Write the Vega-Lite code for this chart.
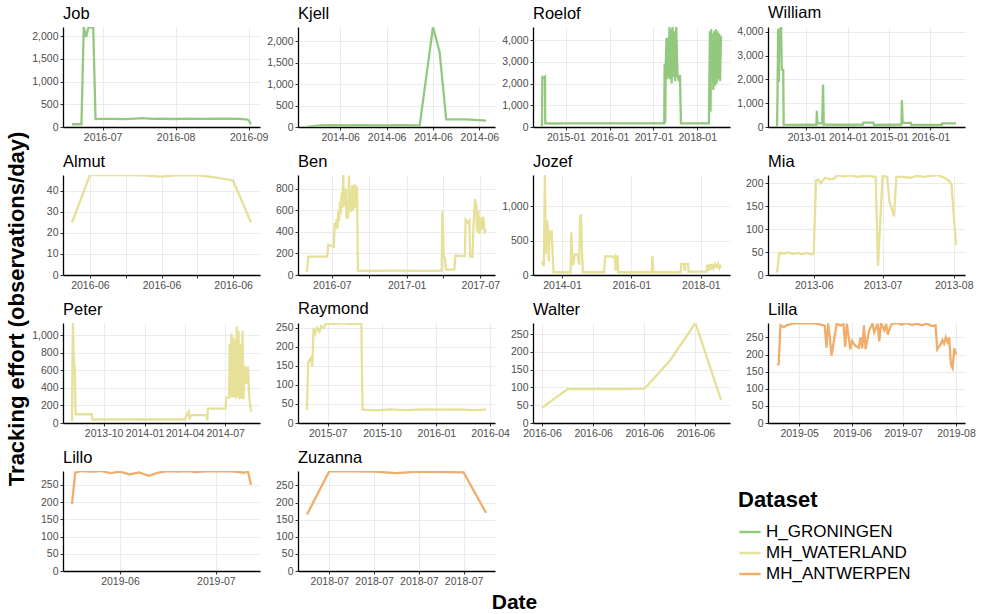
{
  "$schema": "https://vega.github.io/schema/vega-lite/v6.json",
  "padding": 5,
  "background": "white",
  "title": {"text": "Tracking effort (observations/day)", "orient": "left", "anchor": "middle", "fontSize": 22, "fontWeight": "bold", "font": "Liberation Sans", "color": "black", "offset": 3},
  "vconcat": [
    {
      "title": {"text": "Date", "orient": "bottom", "anchor": "middle", "fontSize": 21, "fontWeight": "bold", "font": "Liberation Sans", "color": "black", "offset": 5, "dx": 11},
      "data": {"values": [
        {"n":"Job","d":"2016-06-18","v":60},{"n":"Job","d":"2016-06-20","v":62},{"n":"Job","d":"2016-06-22","v":60},{"n":"Job","d":"2016-06-23","v":2200},{"n":"Job","d":"2016-06-24","v":1980},{"n":"Job","d":"2016-06-25","v":2200},{"n":"Job","d":"2016-06-26","v":2190},{"n":"Job","d":"2016-06-27","v":2200},{"n":"Job","d":"2016-06-28","v":175},{"n":"Job","d":"2016-07-01","v":180},{"n":"Job","d":"2016-07-05","v":178},{"n":"Job","d":"2016-07-10","v":172},{"n":"Job","d":"2016-07-15","v":185},{"n":"Job","d":"2016-07-18","v":195},{"n":"Job","d":"2016-07-22","v":180},{"n":"Job","d":"2016-07-26","v":182},{"n":"Job","d":"2016-08-01","v":176},{"n":"Job","d":"2016-08-06","v":183},{"n":"Job","d":"2016-08-12","v":180},{"n":"Job","d":"2016-08-18","v":185},{"n":"Job","d":"2016-08-24","v":182},{"n":"Job","d":"2016-08-28","v":178},{"n":"Job","d":"2016-08-31","v":170},{"n":"Job","d":"2016-09-01","v":150},{"n":"Job","d":"2016-09-02","v":60},
        {"n":"Kjell","d":"2014-06-03","v":0},{"n":"Kjell","d":"2014-06-05","v":40},{"n":"Kjell","d":"2014-06-07","v":45},{"n":"Kjell","d":"2014-06-09","v":40},{"n":"Kjell","d":"2014-06-11","v":42},{"n":"Kjell","d":"2014-06-13","v":40},{"n":"Kjell","d":"2014-06-15","v":38},{"n":"Kjell","d":"2014-06-17","v":42},{"n":"Kjell","d":"2014-06-19","v":40},{"n":"Kjell","d":"2014-06-20","v":40},{"n":"Kjell","d":"2014-06-22","v":2330},{"n":"Kjell","d":"2014-06-23","v":1750},{"n":"Kjell","d":"2014-06-24","v":180},{"n":"Kjell","d":"2014-06-27","v":180},{"n":"Kjell","d":"2014-06-30","v":150},
        {"n":"Roelof","d":"2014-06-17","v":0},{"n":"Roelof","d":"2014-06-20","v":2300},{"n":"Roelof","d":"2014-07-05","v":2250},{"n":"Roelof","d":"2014-07-12","v":2300},{"n":"Roelof","d":"2014-07-14","v":170},{"n":"Roelof","d":"2014-10-01","v":160},{"n":"Roelof","d":"2015-01-01","v":170},{"n":"Roelof","d":"2015-04-01","v":165},{"n":"Roelof","d":"2015-07-01","v":170},{"n":"Roelof","d":"2016-01-01","v":165},{"n":"Roelof","d":"2016-07-01","v":170},{"n":"Roelof","d":"2017-01-01","v":170},{"n":"Roelof","d":"2017-04-01","v":170},{"n":"Roelof","d":"2017-04-04","v":2900},{"n":"Roelof","d":"2017-04-09","v":200},{"n":"Roelof","d":"2017-04-14","v":3000},{"n":"Roelof","d":"2017-04-20","v":4100},{"n":"Roelof","d":"2017-04-26","v":2200},{"n":"Roelof","d":"2017-05-02","v":4100},{"n":"Roelof","d":"2017-05-08","v":2300},{"n":"Roelof","d":"2017-05-14","v":4600},{"n":"Roelof","d":"2017-05-20","v":2200},{"n":"Roelof","d":"2017-05-27","v":4500},{"n":"Roelof","d":"2017-06-02","v":2000},{"n":"Roelof","d":"2017-06-09","v":4600},{"n":"Roelof","d":"2017-06-15","v":2300},{"n":"Roelof","d":"2017-06-22","v":4400},{"n":"Roelof","d":"2017-07-01","v":2100},{"n":"Roelof","d":"2017-07-10","v":4600},{"n":"Roelof","d":"2017-07-20","v":2400},{"n":"Roelof","d":"2017-08-01","v":2100},{"n":"Roelof","d":"2017-08-10","v":2400},{"n":"Roelof","d":"2017-08-18","v":170},{"n":"Roelof","d":"2017-12-01","v":165},{"n":"Roelof","d":"2018-04-08","v":170},{"n":"Roelof","d":"2018-04-12","v":2200},{"n":"Roelof","d":"2018-04-17","v":4400},{"n":"Roelof","d":"2018-04-22","v":700},{"n":"Roelof","d":"2018-04-27","v":4500},{"n":"Roelof","d":"2018-05-03","v":2500},{"n":"Roelof","d":"2018-05-09","v":4300},{"n":"Roelof","d":"2018-05-15","v":1700},{"n":"Roelof","d":"2018-05-22","v":4400},{"n":"Roelof","d":"2018-05-29","v":1900},{"n":"Roelof","d":"2018-06-05","v":4500},{"n":"Roelof","d":"2018-06-12","v":2000},{"n":"Roelof","d":"2018-06-19","v":4400},{"n":"Roelof","d":"2018-06-26","v":2200},{"n":"Roelof","d":"2018-07-03","v":4300},{"n":"Roelof","d":"2018-07-10","v":2100},{"n":"Roelof","d":"2018-07-18","v":4200},
        {"n":"William","d":"2012-04-16","v":0},{"n":"William","d":"2012-04-20","v":1100},{"n":"William","d":"2012-04-26","v":4100},{"n":"William","d":"2012-05-02","v":1900},{"n":"William","d":"2012-05-06","v":4150},{"n":"William","d":"2012-05-12","v":3200},{"n":"William","d":"2012-05-18","v":3800},{"n":"William","d":"2012-05-22","v":4200},{"n":"William","d":"2012-05-28","v":2400},{"n":"William","d":"2012-06-10","v":2400},{"n":"William","d":"2012-06-14","v":100},{"n":"William","d":"2012-09-01","v":90},{"n":"William","d":"2013-01-01","v":95},{"n":"William","d":"2013-03-30","v":90},{"n":"William","d":"2013-04-03","v":680},{"n":"William","d":"2013-04-08","v":150},{"n":"William","d":"2013-05-20","v":150},{"n":"William","d":"2013-05-28","v":1780},{"n":"William","d":"2013-06-03","v":100},{"n":"William","d":"2013-10-01","v":95},{"n":"William","d":"2014-01-01","v":95},{"n":"William","d":"2014-05-15","v":100},{"n":"William","d":"2014-05-20","v":180},{"n":"William","d":"2014-08-15","v":180},{"n":"William","d":"2014-08-20","v":90},{"n":"William","d":"2015-01-01","v":95},{"n":"William","d":"2015-04-20","v":100},{"n":"William","d":"2015-04-24","v":1130},{"n":"William","d":"2015-05-01","v":170},{"n":"William","d":"2015-07-12","v":170},{"n":"William","d":"2015-07-16","v":90},{"n":"William","d":"2016-01-01","v":90},{"n":"William","d":"2016-04-10","v":90},{"n":"William","d":"2016-04-14","v":150},{"n":"William","d":"2016-08-14","v":150},
        {"n":"Almut","d":"2016-06-03","v":25},{"n":"Almut","d":"2016-06-04","v":47.5},{"n":"Almut","d":"2016-06-05","v":47.5},{"n":"Almut","d":"2016-06-06","v":47.5},{"n":"Almut","d":"2016-06-07","v":47.4},{"n":"Almut","d":"2016-06-08","v":46.8},{"n":"Almut","d":"2016-06-09","v":47.6},{"n":"Almut","d":"2016-06-10","v":47.4},{"n":"Almut","d":"2016-06-11","v":46.5},{"n":"Almut","d":"2016-06-12","v":45},{"n":"Almut","d":"2016-06-13","v":25},
        {"n":"Ben","d":"2016-05-01","v":30},{"n":"Ben","d":"2016-05-04","v":170},{"n":"Ben","d":"2016-06-20","v":170},{"n":"Ben","d":"2016-06-22","v":280},{"n":"Ben","d":"2016-07-06","v":260},{"n":"Ben","d":"2016-07-08","v":480},{"n":"Ben","d":"2016-07-10","v":420},{"n":"Ben","d":"2016-07-13","v":520},{"n":"Ben","d":"2016-07-15","v":430},{"n":"Ben","d":"2016-07-17","v":600},{"n":"Ben","d":"2016-07-19","v":500},{"n":"Ben","d":"2016-07-21","v":680},{"n":"Ben","d":"2016-07-23","v":560},{"n":"Ben","d":"2016-07-25","v":760},{"n":"Ben","d":"2016-07-27","v":620},{"n":"Ben","d":"2016-07-29","v":925},{"n":"Ben","d":"2016-07-31","v":700},{"n":"Ben","d":"2016-08-02","v":640},{"n":"Ben","d":"2016-08-04","v":800},{"n":"Ben","d":"2016-08-06","v":520},{"n":"Ben","d":"2016-08-08","v":650},{"n":"Ben","d":"2016-08-10","v":520},{"n":"Ben","d":"2016-08-12","v":920},{"n":"Ben","d":"2016-08-14","v":680},{"n":"Ben","d":"2016-08-17","v":580},{"n":"Ben","d":"2016-08-20","v":830},{"n":"Ben","d":"2016-08-23","v":600},{"n":"Ben","d":"2016-08-26","v":840},{"n":"Ben","d":"2016-08-29","v":620},{"n":"Ben","d":"2016-09-01","v":820},{"n":"Ben","d":"2016-09-03","v":40},{"n":"Ben","d":"2016-10-01","v":38},{"n":"Ben","d":"2016-12-01","v":40},{"n":"Ben","d":"2017-02-01","v":38},{"n":"Ben","d":"2017-03-28","v":40},{"n":"Ben","d":"2017-03-30","v":590},{"n":"Ben","d":"2017-04-02","v":170},{"n":"Ben","d":"2017-04-05","v":160},{"n":"Ben","d":"2017-04-08","v":50},{"n":"Ben","d":"2017-04-28","v":50},{"n":"Ben","d":"2017-05-01","v":180},{"n":"Ben","d":"2017-05-24","v":175},{"n":"Ben","d":"2017-05-26","v":510},{"n":"Ben","d":"2017-06-01","v":480},{"n":"Ben","d":"2017-06-04","v":500},{"n":"Ben","d":"2017-06-06","v":170},{"n":"Ben","d":"2017-06-12","v":170},{"n":"Ben","d":"2017-06-14","v":440},{"n":"Ben","d":"2017-06-18","v":700},{"n":"Ben","d":"2017-06-21","v":650},{"n":"Ben","d":"2017-06-23","v":400},{"n":"Ben","d":"2017-06-26","v":600},{"n":"Ben","d":"2017-06-29","v":380},{"n":"Ben","d":"2017-07-02","v":530},{"n":"Ben","d":"2017-07-05","v":420},{"n":"Ben","d":"2017-07-08","v":540},{"n":"Ben","d":"2017-07-12","v":400},{"n":"Ben","d":"2017-07-15","v":420},
        {"n":"Jozef","d":"2013-06-05","v":150},{"n":"Jozef","d":"2013-06-15","v":200},{"n":"Jozef","d":"2013-06-25","v":130},{"n":"Jozef","d":"2013-07-05","v":1450},{"n":"Jozef","d":"2013-07-15","v":300},{"n":"Jozef","d":"2013-07-25","v":800},{"n":"Jozef","d":"2013-08-05","v":700},{"n":"Jozef","d":"2013-08-15","v":200},{"n":"Jozef","d":"2013-08-25","v":650},{"n":"Jozef","d":"2013-09-05","v":600},{"n":"Jozef","d":"2013-09-15","v":620},{"n":"Jozef","d":"2013-09-25","v":300},{"n":"Jozef","d":"2013-10-05","v":40},{"n":"Jozef","d":"2014-04-01","v":40},{"n":"Jozef","d":"2014-04-10","v":620},{"n":"Jozef","d":"2014-04-20","v":150},{"n":"Jozef","d":"2014-05-01","v":160},{"n":"Jozef","d":"2014-05-15","v":300},{"n":"Jozef","d":"2014-06-15","v":300},{"n":"Jozef","d":"2014-07-01","v":150},{"n":"Jozef","d":"2014-07-10","v":820},{"n":"Jozef","d":"2014-07-20","v":880},{"n":"Jozef","d":"2014-08-01","v":300},{"n":"Jozef","d":"2014-08-10","v":40},{"n":"Jozef","d":"2015-03-20","v":40},{"n":"Jozef","d":"2015-04-01","v":270},{"n":"Jozef","d":"2015-06-15","v":270},{"n":"Jozef","d":"2015-07-01","v":250},{"n":"Jozef","d":"2015-07-10","v":270},{"n":"Jozef","d":"2015-07-20","v":60},{"n":"Jozef","d":"2015-07-25","v":270},{"n":"Jozef","d":"2015-08-10","v":270},{"n":"Jozef","d":"2015-08-15","v":40},{"n":"Jozef","d":"2016-08-01","v":40},{"n":"Jozef","d":"2016-08-10","v":270},{"n":"Jozef","d":"2016-08-20","v":40},{"n":"Jozef","d":"2017-06-01","v":40},{"n":"Jozef","d":"2017-06-10","v":160},{"n":"Jozef","d":"2017-07-10","v":160},{"n":"Jozef","d":"2017-07-15","v":60},{"n":"Jozef","d":"2017-07-20","v":160},{"n":"Jozef","d":"2017-08-20","v":160},{"n":"Jozef","d":"2017-08-25","v":50},{"n":"Jozef","d":"2018-03-01","v":50},{"n":"Jozef","d":"2018-03-10","v":150},{"n":"Jozef","d":"2018-03-25","v":60},{"n":"Jozef","d":"2018-04-05","v":160},{"n":"Jozef","d":"2018-04-20","v":80},{"n":"Jozef","d":"2018-05-01","v":160},{"n":"Jozef","d":"2018-05-15","v":100},{"n":"Jozef","d":"2018-06-01","v":160},{"n":"Jozef","d":"2018-06-15","v":120},{"n":"Jozef","d":"2018-07-01","v":160},{"n":"Jozef","d":"2018-07-15","v":100},{"n":"Jozef","d":"2018-08-01","v":150},
        {"n":"Mia","d":"2013-05-16","v":5},{"n":"Mia","d":"2013-05-17","v":48},{"n":"Mia","d":"2013-05-19","v":47},{"n":"Mia","d":"2013-05-21","v":49},{"n":"Mia","d":"2013-05-23","v":46},{"n":"Mia","d":"2013-05-25","v":48},{"n":"Mia","d":"2013-05-27","v":45},{"n":"Mia","d":"2013-05-29","v":48},{"n":"Mia","d":"2013-05-31","v":45},{"n":"Mia","d":"2013-06-01","v":46},{"n":"Mia","d":"2013-06-02","v":205},{"n":"Mia","d":"2013-06-03","v":208},{"n":"Mia","d":"2013-06-04","v":200},{"n":"Mia","d":"2013-06-06","v":212},{"n":"Mia","d":"2013-06-08","v":209},{"n":"Mia","d":"2013-06-10","v":210},{"n":"Mia","d":"2013-06-11","v":217},{"n":"Mia","d":"2013-06-14","v":215},{"n":"Mia","d":"2013-06-17","v":217},{"n":"Mia","d":"2013-06-20","v":214},{"n":"Mia","d":"2013-06-23","v":216},{"n":"Mia","d":"2013-06-26","v":215},{"n":"Mia","d":"2013-06-28","v":214},{"n":"Mia","d":"2013-06-29","v":20},{"n":"Mia","d":"2013-07-01","v":216},{"n":"Mia","d":"2013-07-03","v":214},{"n":"Mia","d":"2013-07-04","v":160},{"n":"Mia","d":"2013-07-06","v":128},{"n":"Mia","d":"2013-07-07","v":214},{"n":"Mia","d":"2013-07-10","v":214},{"n":"Mia","d":"2013-07-13","v":212},{"n":"Mia","d":"2013-07-16","v":216},{"n":"Mia","d":"2013-07-19","v":214},{"n":"Mia","d":"2013-07-22","v":216},{"n":"Mia","d":"2013-07-25","v":218},{"n":"Mia","d":"2013-07-28","v":212},{"n":"Mia","d":"2013-07-30","v":205},{"n":"Mia","d":"2013-07-31","v":198},{"n":"Mia","d":"2013-08-02","v":65},
        {"n":"Peter","d":"2013-07-22","v":20},{"n":"Peter","d":"2013-07-24","v":1140},{"n":"Peter","d":"2013-07-26","v":700},{"n":"Peter","d":"2013-07-28","v":650},{"n":"Peter","d":"2013-07-30","v":100},{"n":"Peter","d":"2013-09-04","v":100},{"n":"Peter","d":"2013-09-06","v":40},{"n":"Peter","d":"2013-11-01","v":42},{"n":"Peter","d":"2014-01-01","v":40},{"n":"Peter","d":"2014-03-01","v":42},{"n":"Peter","d":"2014-04-01","v":40},{"n":"Peter","d":"2014-04-05","v":80},{"n":"Peter","d":"2014-04-10","v":130},{"n":"Peter","d":"2014-04-12","v":40},{"n":"Peter","d":"2014-04-15","v":90},{"n":"Peter","d":"2014-05-20","v":90},{"n":"Peter","d":"2014-05-22","v":30},{"n":"Peter","d":"2014-05-23","v":165},{"n":"Peter","d":"2014-07-02","v":165},{"n":"Peter","d":"2014-07-03","v":290},{"n":"Peter","d":"2014-07-10","v":290},{"n":"Peter","d":"2014-07-11","v":900},{"n":"Peter","d":"2014-07-13","v":300},{"n":"Peter","d":"2014-07-15","v":1020},{"n":"Peter","d":"2014-07-17","v":290},{"n":"Peter","d":"2014-07-19","v":980},{"n":"Peter","d":"2014-07-21","v":300},{"n":"Peter","d":"2014-07-23","v":950},{"n":"Peter","d":"2014-07-25","v":280},{"n":"Peter","d":"2014-07-27","v":1100},{"n":"Peter","d":"2014-07-29","v":300},{"n":"Peter","d":"2014-07-31","v":1050},{"n":"Peter","d":"2014-08-02","v":270},{"n":"Peter","d":"2014-08-04","v":900},{"n":"Peter","d":"2014-08-06","v":280},{"n":"Peter","d":"2014-08-09","v":1050},{"n":"Peter","d":"2014-08-11","v":270},{"n":"Peter","d":"2014-08-14","v":650},{"n":"Peter","d":"2014-08-18","v":450},{"n":"Peter","d":"2014-08-21","v":650},{"n":"Peter","d":"2014-08-24","v":300},{"n":"Peter","d":"2014-08-28","v":130},
        {"n":"Raymond","d":"2015-05-27","v":35},{"n":"Raymond","d":"2015-05-29","v":160},{"n":"Raymond","d":"2015-06-02","v":170},{"n":"Raymond","d":"2015-06-05","v":148},{"n":"Raymond","d":"2015-06-07","v":250},{"n":"Raymond","d":"2015-06-10","v":235},{"n":"Raymond","d":"2015-06-13","v":250},{"n":"Raymond","d":"2015-06-17","v":240},{"n":"Raymond","d":"2015-06-20","v":255},{"n":"Raymond","d":"2015-06-24","v":250},{"n":"Raymond","d":"2015-06-28","v":262},{"n":"Raymond","d":"2015-07-10","v":260},{"n":"Raymond","d":"2015-07-25","v":263},{"n":"Raymond","d":"2015-08-10","v":260},{"n":"Raymond","d":"2015-08-27","v":262},{"n":"Raymond","d":"2015-08-29","v":35},{"n":"Raymond","d":"2015-09-20","v":33},{"n":"Raymond","d":"2015-10-15","v":36},{"n":"Raymond","d":"2015-11-10","v":34},{"n":"Raymond","d":"2015-12-10","v":36},{"n":"Raymond","d":"2016-01-15","v":35},{"n":"Raymond","d":"2016-02-10","v":36},{"n":"Raymond","d":"2016-03-05","v":34},{"n":"Raymond","d":"2016-03-25","v":35},
        {"n":"Walter","d":"2016-06-10","v":43},{"n":"Walter","d":"2016-06-11","v":95},{"n":"Walter","d":"2016-06-12","v":95},{"n":"Walter","d":"2016-06-13","v":95},{"n":"Walter","d":"2016-06-14","v":96},{"n":"Walter","d":"2016-06-15","v":175},{"n":"Walter","d":"2016-06-16","v":281},{"n":"Walter","d":"2016-06-17","v":65},
        {"n":"Lilla","d":"2019-04-18","v":170},{"n":"Lilla","d":"2019-04-19","v":172},{"n":"Lilla","d":"2019-04-20","v":285},{"n":"Lilla","d":"2019-04-22","v":280},{"n":"Lilla","d":"2019-04-24","v":286},{"n":"Lilla","d":"2019-04-27","v":290},{"n":"Lilla","d":"2019-05-01","v":292},{"n":"Lilla","d":"2019-05-05","v":291},{"n":"Lilla","d":"2019-05-09","v":292},{"n":"Lilla","d":"2019-05-13","v":288},{"n":"Lilla","d":"2019-05-16","v":284},{"n":"Lilla","d":"2019-05-17","v":220},{"n":"Lilla","d":"2019-05-18","v":290},{"n":"Lilla","d":"2019-05-19","v":250},{"n":"Lilla","d":"2019-05-20","v":196},{"n":"Lilla","d":"2019-05-22","v":260},{"n":"Lilla","d":"2019-05-23","v":290},{"n":"Lilla","d":"2019-05-25","v":285},{"n":"Lilla","d":"2019-05-27","v":288},{"n":"Lilla","d":"2019-05-28","v":222},{"n":"Lilla","d":"2019-05-29","v":290},{"n":"Lilla","d":"2019-05-31","v":215},{"n":"Lilla","d":"2019-06-01","v":240},{"n":"Lilla","d":"2019-06-03","v":225},{"n":"Lilla","d":"2019-06-05","v":220},{"n":"Lilla","d":"2019-06-06","v":250},{"n":"Lilla","d":"2019-06-07","v":218},{"n":"Lilla","d":"2019-06-08","v":285},{"n":"Lilla","d":"2019-06-09","v":215},{"n":"Lilla","d":"2019-06-11","v":270},{"n":"Lilla","d":"2019-06-13","v":290},{"n":"Lilla","d":"2019-06-14","v":265},{"n":"Lilla","d":"2019-06-16","v":290},{"n":"Lilla","d":"2019-06-17","v":238},{"n":"Lilla","d":"2019-06-18","v":292},{"n":"Lilla","d":"2019-06-20","v":270},{"n":"Lilla","d":"2019-06-21","v":290},{"n":"Lilla","d":"2019-06-22","v":258},{"n":"Lilla","d":"2019-06-24","v":288},{"n":"Lilla","d":"2019-06-27","v":292},{"n":"Lilla","d":"2019-06-30","v":287},{"n":"Lilla","d":"2019-07-03","v":292},{"n":"Lilla","d":"2019-07-06","v":286},{"n":"Lilla","d":"2019-07-09","v":290},{"n":"Lilla","d":"2019-07-12","v":285},{"n":"Lilla","d":"2019-07-15","v":290},{"n":"Lilla","d":"2019-07-18","v":283},{"n":"Lilla","d":"2019-07-20","v":285},{"n":"Lilla","d":"2019-07-21","v":215},{"n":"Lilla","d":"2019-07-23","v":230},{"n":"Lilla","d":"2019-07-24","v":242},{"n":"Lilla","d":"2019-07-25","v":232},{"n":"Lilla","d":"2019-07-26","v":250},{"n":"Lilla","d":"2019-07-27","v":236},{"n":"Lilla","d":"2019-07-28","v":250},{"n":"Lilla","d":"2019-07-29","v":170},{"n":"Lilla","d":"2019-07-30","v":160},{"n":"Lilla","d":"2019-07-31","v":218},{"n":"Lilla","d":"2019-08-01","v":200},
        {"n":"Lillo","d":"2019-05-17","v":195},{"n":"Lillo","d":"2019-05-18","v":285},{"n":"Lillo","d":"2019-05-20","v":290},{"n":"Lillo","d":"2019-05-23","v":288},{"n":"Lillo","d":"2019-05-26","v":290},{"n":"Lillo","d":"2019-05-29","v":284},{"n":"Lillo","d":"2019-06-01","v":288},{"n":"Lillo","d":"2019-06-04","v":280},{"n":"Lillo","d":"2019-06-07","v":286},{"n":"Lillo","d":"2019-06-10","v":276},{"n":"Lillo","d":"2019-06-13","v":285},{"n":"Lillo","d":"2019-06-16","v":290},{"n":"Lillo","d":"2019-06-19","v":288},{"n":"Lillo","d":"2019-06-22","v":290},{"n":"Lillo","d":"2019-06-25","v":287},{"n":"Lillo","d":"2019-06-28","v":290},{"n":"Lillo","d":"2019-07-01","v":289},{"n":"Lillo","d":"2019-07-04","v":290},{"n":"Lillo","d":"2019-07-07","v":288},{"n":"Lillo","d":"2019-07-10","v":285},{"n":"Lillo","d":"2019-07-11","v":290},{"n":"Lillo","d":"2019-07-12","v":250},
        {"n":"Zuzanna","d":"2018-07-03","v":165},{"n":"Zuzanna","d":"2018-07-04","v":292},{"n":"Zuzanna","d":"2018-07-06","v":290},{"n":"Zuzanna","d":"2018-07-07","v":286},{"n":"Zuzanna","d":"2018-07-08","v":290},{"n":"Zuzanna","d":"2018-07-10","v":288},{"n":"Zuzanna","d":"2018-07-11","v":170}
      ]},
      "transform": [
        {"lookup": "n", "from": {"data": {"values": [
          {"n":"Job","g":"H_GRONINGEN"},{"n":"Kjell","g":"H_GRONINGEN"},{"n":"Roelof","g":"H_GRONINGEN"},{"n":"William","g":"H_GRONINGEN"},
          {"n":"Almut","g":"MH_WATERLAND"},{"n":"Ben","g":"MH_WATERLAND"},{"n":"Jozef","g":"MH_WATERLAND"},{"n":"Mia","g":"MH_WATERLAND"},{"n":"Peter","g":"MH_WATERLAND"},{"n":"Raymond","g":"MH_WATERLAND"},{"n":"Walter","g":"MH_WATERLAND"},
          {"n":"Lilla","g":"MH_ANTWERPEN"},{"n":"Lillo","g":"MH_ANTWERPEN"},{"n":"Zuzanna","g":"MH_ANTWERPEN"}
        ]}, "key": "n", "fields": ["g"]}}
      ],
      "facet": {"field": "n", "type": "nominal", "sort": ["Job","Kjell","Roelof","William","Almut","Ben","Jozef","Mia","Peter","Raymond","Walter","Lilla","Lillo","Zuzanna"],
        "header": {"title": null, "labelFontSize": 16.5, "labelAnchor": "start", "labelPadding": 5, "labelColor": "black", "labelFont": "Liberation Sans"}},
      "columns": 4,
      "bounds": "flush",
      "spacing": {"row": 48, "column": 38},
      "resolve": {"scale": {"x": "independent", "y": "independent"}, "axis": {"x": "independent", "y": "independent"}},
      "spec": {
        "width": 197,
        "height": 100,
        "mark": {"type": "line", "strokeWidth": 2.3, "clip": true},
        "encoding": {
          "x": {"field": "d", "type": "temporal", "scale": {"type": "utc", "nice": false, "padding": 9},
                "axis": {"format": "%Y-%m", "tickCount": 4, "title": null, "labelFlush": false}},
          "y": {"field": "v", "type": "quantitative", "scale": {"zero": true, "nice": false},
                "axis": {"format": ",.0f", "tickCount": 4.3, "title": null, "minExtent": 30, "maxExtent": 30}},
          "color": {"field": "g", "type": "nominal",
            "scale": {"domain": ["H_GRONINGEN","MH_WATERLAND","MH_ANTWERPEN"], "range": ["#93c97e","#e6e099","#f0ad6b"]},
            "legend": {"title": "Dataset", "orient": "none", "legendX": 675, "legendY": 463, "symbolType": "stroke", "symbolStrokeWidth": 2.5, "symbolSize": 450, "titleFontSize": 22, "titleFontWeight": "bold", "titleFont": "Liberation Sans", "titleColor": "black", "labelFontSize": 17, "labelFont": "Liberation Sans", "labelColor": "black", "rowPadding": 1, "titlePadding": 8}}
        }
      }
    }
  ],
  "config": {
    "view": {"stroke": null},
    "axis": {"domainColor": "#000", "domainWidth": 1.3, "tickColor": "#333", "tickSize": 3, "labelColor": "#4d4d4d", "labelFontSize": 10.5, "labelFont": "Liberation Sans", "gridColor": "#ebebeb", "gridWidth": 1, "labelPadding": 2}
  }
}
